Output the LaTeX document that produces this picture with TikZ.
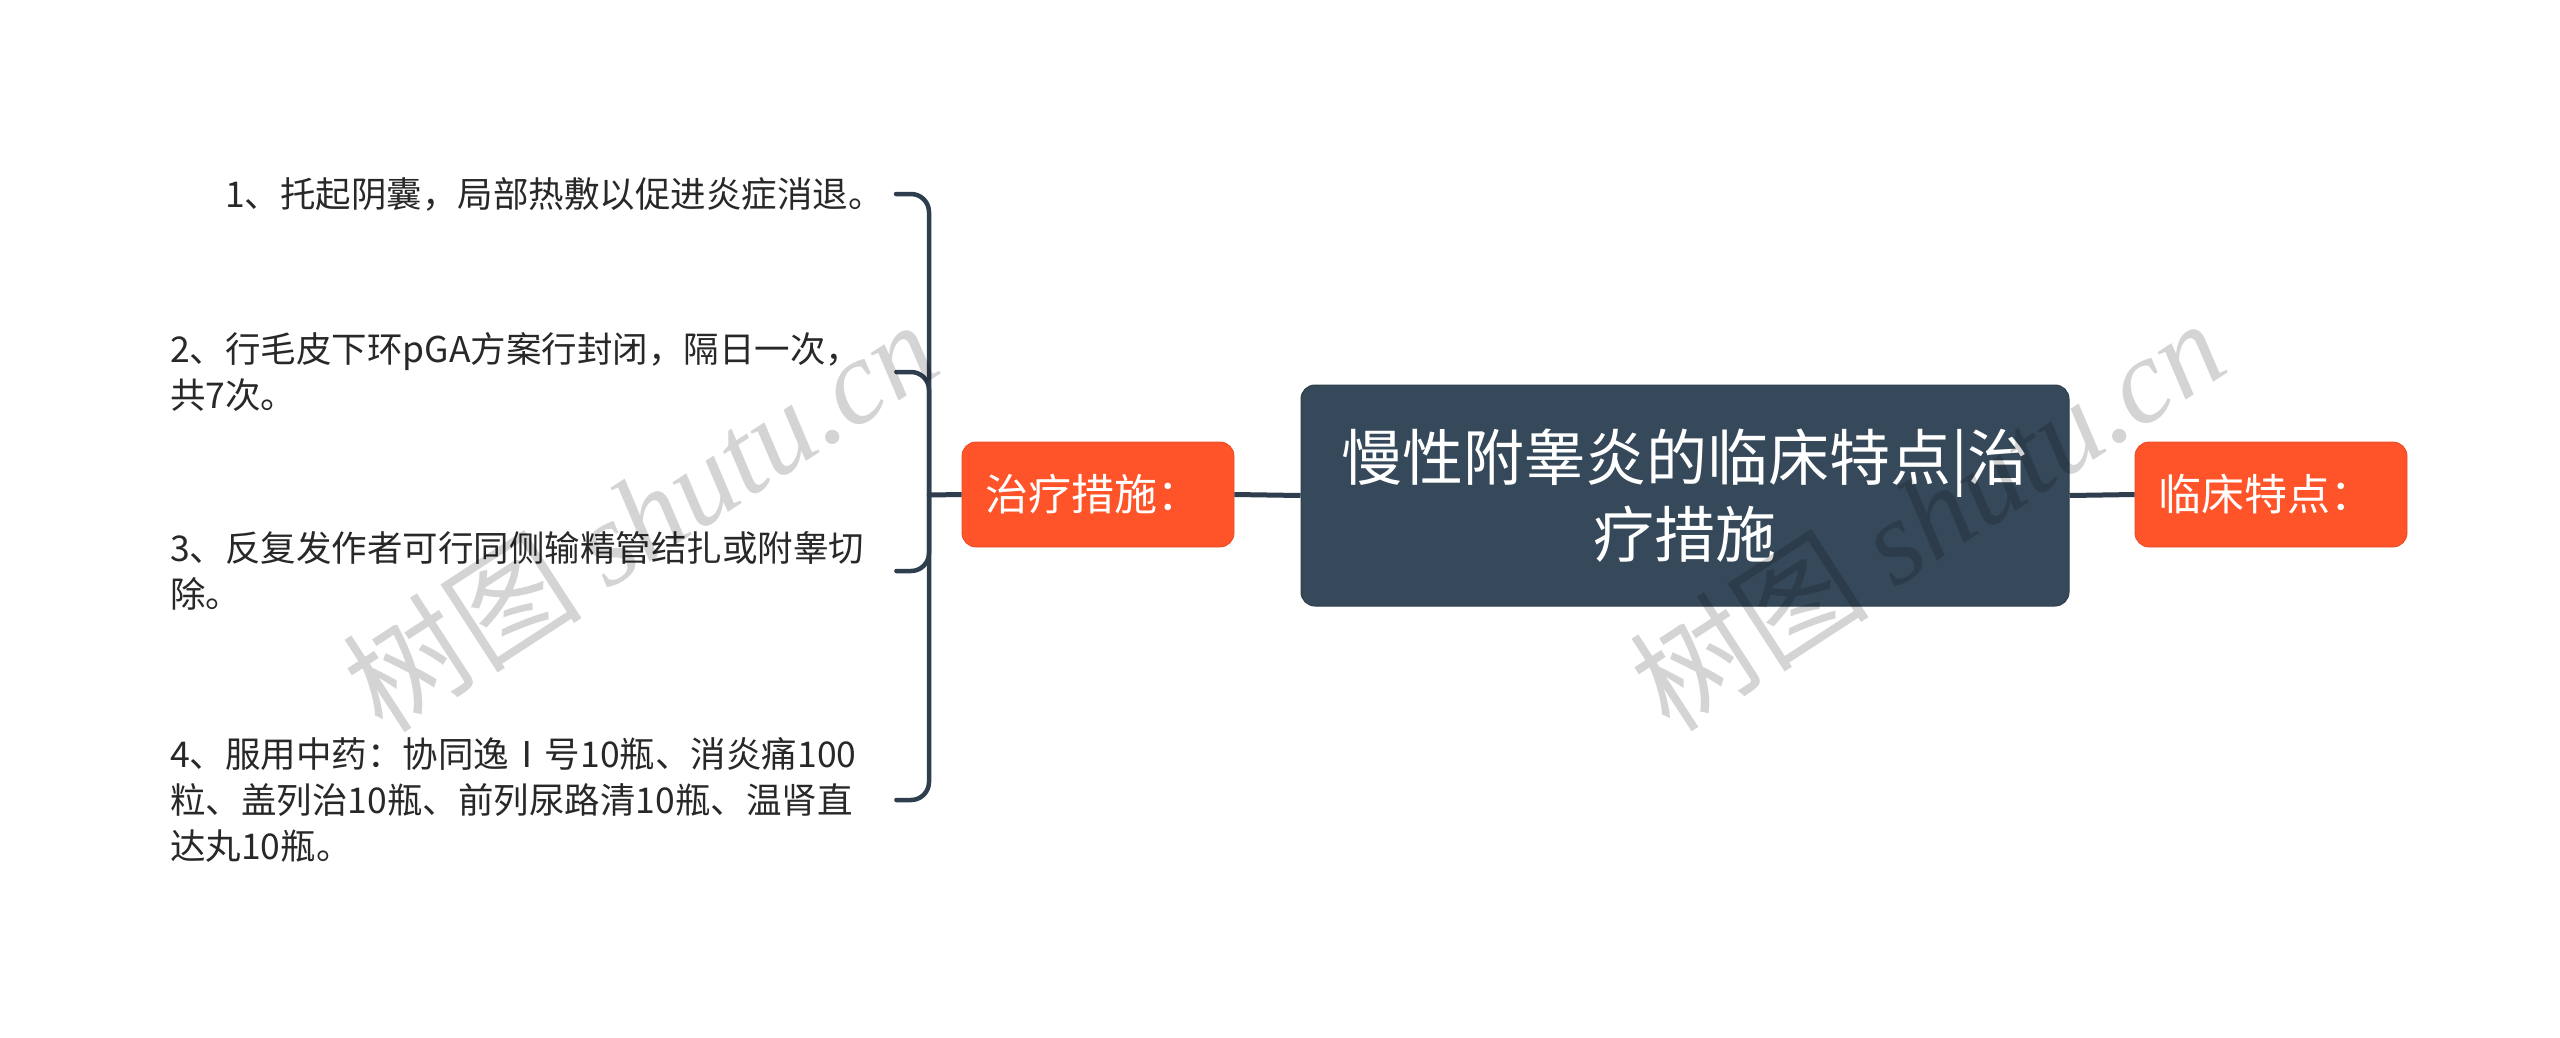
\documentclass[tikz,border=0pt]{standalone}
\usepackage{fontspec}
\newfontfamily\cjk{Noto Sans CJK SC}
\newfontfamily\wmserif{Liberation Serif}
\definecolor{rootfill}{RGB}{54,73,90}
\definecolor{linecol}{RGB}{47,62,78}
\definecolor{orangefill}{RGB}{255,83,42}
\definecolor{itemtext}{RGB}{40,40,40}
\tikzset{
  rootbox/.style={fill=rootfill, draw=rootfill!85!black, line width=1pt, rounded corners=14pt,
    minimum width=768pt, minimum height=221pt, align=center, text=white,
    font=\cjk\fontsize{61}{77}\selectfont, inner sep=0pt},
  orangebox/.style={fill=orangefill, draw=orangefill!90!black, line width=0.8pt, rounded corners=14pt,
    minimum height=105pt, text width=226pt, inner xsep=23pt, inner ysep=0pt, align=left, text=white,
    font=\cjk\fontsize{43}{50}\selectfont},
  itemtxt/.style={text=itemtext, font=\cjk\fontsize{35.5}{46}\selectfont, inner sep=0pt, align=left},
  itemwide/.style={itemtxt, text width=726pt},
  conn/.style={draw=linecol, line width=5pt},
  brace/.style={draw=linecol, line width=4.5pt, rounded corners=18pt, line cap=round},
  wmark/.style={text=black, text opacity=0.17, rotate=33, inner sep=0pt}
}
\begin{document}
\begin{tikzpicture}[x=1pt,y=-1pt]
\path[use as bounding box, fill=white] (0,0) rectangle (2560,1037);
% nodes
\node[rootbox] (root) at (1685,495.5) {慢性附睾炎的临床特点|治\\疗措施};
\node[orangebox] (L) at (1098,494.5) {治疗措施：};
\node[orangebox] (R) at (2271,494.5) {临床特点：};
\coordinate (J) at (929,495);
\node[itemtxt, anchor=east] (i1) at (884,194) {1、托起阴囊，局部热敷以促进炎症消退。};
\node[itemwide, anchor=west] (i2) at (170,372) {2、行毛皮下环pGA方案行封闭，隔日一次，\\共7次。};
\node[itemwide, anchor=west] (i3) at (170,571) {3、反复发作者可行同侧输精管结扎或附睾切\\除。};
\node[itemwide, anchor=west] (i4) at (170,800) {4、服用中药：协同逸Ⅰ号10瓶、消炎痛100\\粒、盖列治10瓶、前列尿路清10瓶、温肾直\\达丸10瓶。};
\coordinate (e1) at (896,194);
% connectors
\draw[conn] (L.east) -- (root.west);
\draw[conn] (root.east) -- (R.west);
\draw[conn] (L.west) -- (J);
\draw[brace] (J) |- (e1);
\draw[brace] (J) |- (i2.east);
\draw[brace] (J) |- (i3.east);
\draw[brace] (J) |- (i4.east);
% watermarks (on top, translucent)
\node[wmark] (wm1) at (640,515) {\cjk\fontsize{120}{120}\selectfont 树图 \wmserif\itshape shutu.cn};
\node[wmark] (wm2) at (1927,514) {\cjk\fontsize{120}{120}\selectfont 树图 \wmserif\itshape shutu.cn};
\end{tikzpicture}
\end{document}
